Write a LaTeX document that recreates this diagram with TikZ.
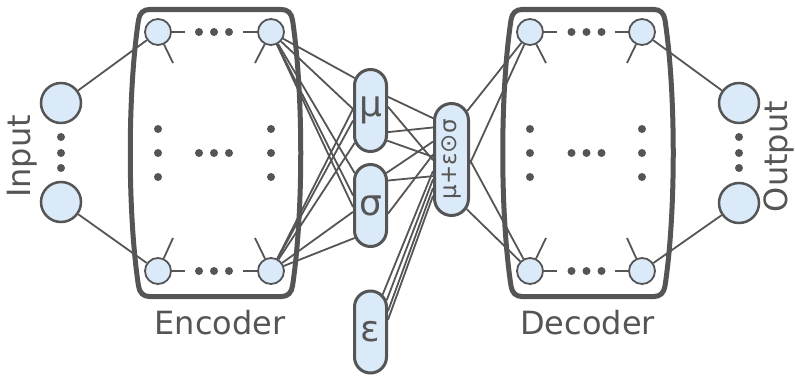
\documentclass[tikz,border=0pt]{standalone}
\usepackage{fontspec}
\setmainfont{DejaVu Sans}
\usetikzlibrary{shapes.misc}
\definecolor{linegray}{HTML}{555555}
\definecolor{cellblue}{HTML}{DAEAF8}
\tikzset{
  wire/.style={draw=linegray, line width=1.8pt},
  neuron/.style={circle, draw=linegray, fill=cellblue, line width=1.8pt, minimum size=26pt, inner sep=0pt},
  ionode/.style={neuron, line width=2.5pt, minimum size=40pt},
  pill/.style={rounded rectangle, draw=linegray, fill=cellblue, line width=3pt, rotate=90,
    minimum width=82pt, minimum height=32pt, inner sep=0pt, text=linegray, font=\fontsize{36}{40}\selectfont},
  frame/.style={draw=linegray, line width=5pt},
  dot/.style={fill=linegray},
  caption/.style={text=linegray, font=\fontsize{32}{38}\selectfont, inner sep=0pt}
}
\begin{document}
\begin{tikzpicture}[x=1pt,y=1pt]
  \useasboundingbox (0,0) rectangle (795,376);
  \node[ionode] (in1) at (61,273) {};
  \node[ionode] (in2) at (61,174) {};
  \node[neuron] (e1) at (158,344) {};
  \node[neuron] (e2) at (271,344) {};
  \node[neuron] (e3) at (158,105) {};
  \node[neuron] (e4) at (271,105) {};
  \node[pill] (mu)  at (370.5,265.5) {\rotatebox{-90}{μ}};
  \node[pill] (sig) at (370.5,170.5) {\rotatebox{-90}{σ}};
  \node[pill] (eps) at (370.5,44) {\rotatebox{-90}{ε}};
  \node[pill, minimum width=112pt, minimum height=34pt, font=\fontsize{23}{26}\selectfont] (z) at (451.5,216.5) {μ+ε⊙σ};
  \node[neuron] (d1) at (530,344) {};
  \node[neuron] (d2) at (642,344) {};
  \node[neuron] (d3) at (530,105) {};
  \node[neuron] (d4) at (642,105) {};
  \node[ionode] (out1) at (739,273) {};
  \node[ionode] (out2) at (739,173) {};

  \node[caption, anchor=base] (enc) at (220,42) {Encoder};
  \node[caption, anchor=base] (dec) at (587.5,42) {Decoder};
  \node[caption, rotate=90] (inp) at (22.5,219.5) {Input};
  \node[caption, rotate=90] (outp) at (778.5,219.5) {Output};

  \path[wire] (in1) edge (e1) (in2) edge (e3) (d2) edge (out1) (d4) edge (out2);
  \path[wire]
    (e2) edge (mu.26) edge (mu.85) edge (sig.26) edge (sig.60) edge (sig.95)
    (e4) edge (sig.154) edge (sig.110) edge (mu.154) edge (mu.120) edge (mu.85);
  \path[wire]
    (mu.-52) edge (z.24) (mu.-141) edge (z.30) (mu.-78) edge (z.92) (mu.-151) edge (z.82)
    (sig.-26) edge (z.46) (sig.-35) edge (z.132) (sig.-115) edge (z.75)
    (eps.-18) edge (z.122) (eps.-27) edge (z.137) (eps.-40) edge (z.147) (eps.-55) edge (z.153)
    (z.-18) edge (d1) (z.-102) edge (d1) (z.-92) edge (d3) (z.-163) edge (d3);

  \foreach \n/\dx/\dy in {e1/15/-31, e2/-16/-31, e3/15/33, e4/-16/33, d1/16/-31, d2/-15/-31, d3/16/33, d4/-15/33}
    \draw[wire] (\n) -- ++(\dx,\dy);
  \foreach \n/\dx in {e1/27, e2/-28, e3/27, e4/-28, d1/27, d2/-27, d3/27, d4/-27}
    \draw[wire] (\n) -- ++(\dx,0);

  \foreach \x in {199,214,229,571.5,586.5,601.5}
    \foreach \y in {344,223,105} \fill[dot] (\x,\y) circle (4);
  \foreach \x in {158,271,530,642}
    \foreach \y in {247,223,199} \fill[dot] (\x,\y) circle (4);
  \foreach \x in {61,739}
    \foreach \y in {239,223,208} \fill[dot] (\x,\y) circle (4);

  \foreach \c in {215.5,588}
  {\begin{scope}[shift={(\c,223)}]
    \draw[frame] (-66,143.5) -- (66,143.5) .. controls (72,143.5) and (76,140) .. (77,133)
      .. controls (88,60) and (88,-60) .. (77,-133) .. controls (76,-140) and (72,-143.5) .. (66,-143.5)
      -- (-66,-143.5) .. controls (-72,-143.5) and (-76,-140) .. (-77,-133)
      .. controls (-88,-60) and (-88,60) .. (-77,133) .. controls (-76,140) and (-72,143.5) .. (-66,143.5) -- cycle;
  \end{scope}}
\end{tikzpicture}
\end{document}
